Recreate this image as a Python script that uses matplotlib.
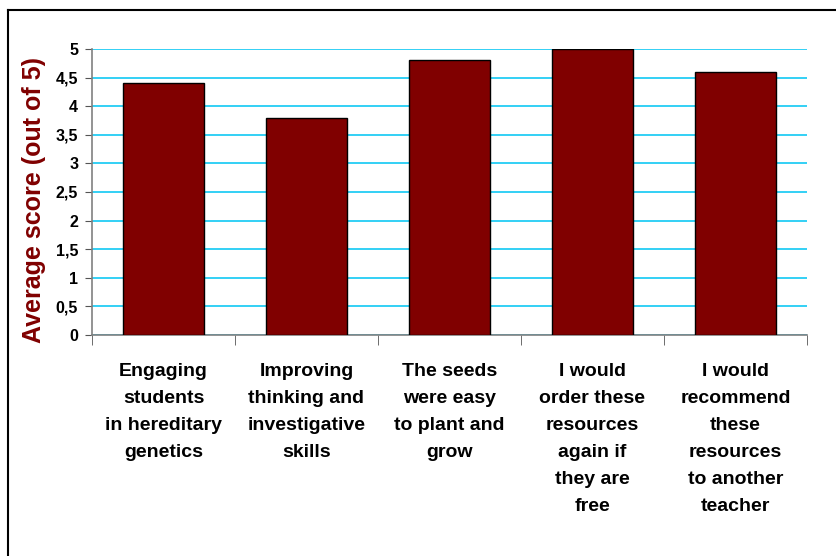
import numpy as np
import matplotlib.pyplot as plt
from matplotlib.lines import Line2D

plt.rcParams['font.family'] = ['Liberation Sans', 'DejaVu Sans']
plt.rcParams['font.weight'] = 'bold'

categories = ['Engaging\nstudents\nin hereditary\ngenetics',
              'Improving\nthinking and\ninvestigative\nskills',
              'The seeds\nwere easy\nto plant and\ngrow',
              'I would\norder these\nresources\nagain if\nthey are\nfree',
              'I would\nrecommend\nthese\nresources\nto another\nteacher']
scores = [4.4, 3.8, 4.8, 5.0, 4.6]
yticks = [0, 0.5, 1, 1.5, 2, 2.5, 3, 3.5, 4, 4.5, 5]
ytick_labels = ['0', '0,5', '1', '1,5', '2', '2,5', '3', '3,5', '4', '4,5', '5']

fig = plt.figure(figsize=(8.37, 5.56), dpi=100)
ax = fig.add_axes([92/837, 1-335/556, 715/837, 286/556])

x = np.arange(len(categories))
ax.bar(x, scores, width=0.56, color='#800000', edgecolor='black', linewidth=1, zorder=3)

ax.set_xlim(-0.5, len(categories) - 0.5)
ax.set_ylim(0, 5)
ax.set_yticks(yticks)
ax.set_yticklabels(ytick_labels, fontsize=11.5, fontweight='bold')
ax.yaxis.grid(True, color='#10c8f4', linewidth=1.2, zorder=0)
ax.set_axisbelow(True)

ax.set_xticks(x)
ax.set_xticklabels(categories, fontsize=14, fontweight='bold', linespacing=1.77, va='top')
ax.tick_params(axis='x', which='major', length=0, pad=20)
ax.set_xticks(np.arange(-0.5, len(categories)), minor=True)
ax.tick_params(axis='x', which='minor', length=7, color='#555555', direction='out')
ax.tick_params(axis='y', length=5, color='#555555', pad=5)

for s in ['top', 'right']:
    ax.spines[s].set_visible(False)
for s in ['left', 'bottom']:
    ax.spines[s].set_color('#808080')
    ax.spines[s].set_linewidth(1.2)

fig.text(34/837, 1-200/556, 'Average score (out of 5)', rotation=90, color='#800000',
         fontsize=18, fontweight='bold', ha='center', va='center')

# frame lines on top and left only
fig.add_artist(Line2D([8/837, 8/837], [0, 1-10/556], transform=fig.transFigure, color='black', lw=1.5))
fig.add_artist(Line2D([8/837, 1], [1-10/556, 1-10/556], transform=fig.transFigure, color='black', lw=1.5))

fig.savefig('out.png', dpi=100)
